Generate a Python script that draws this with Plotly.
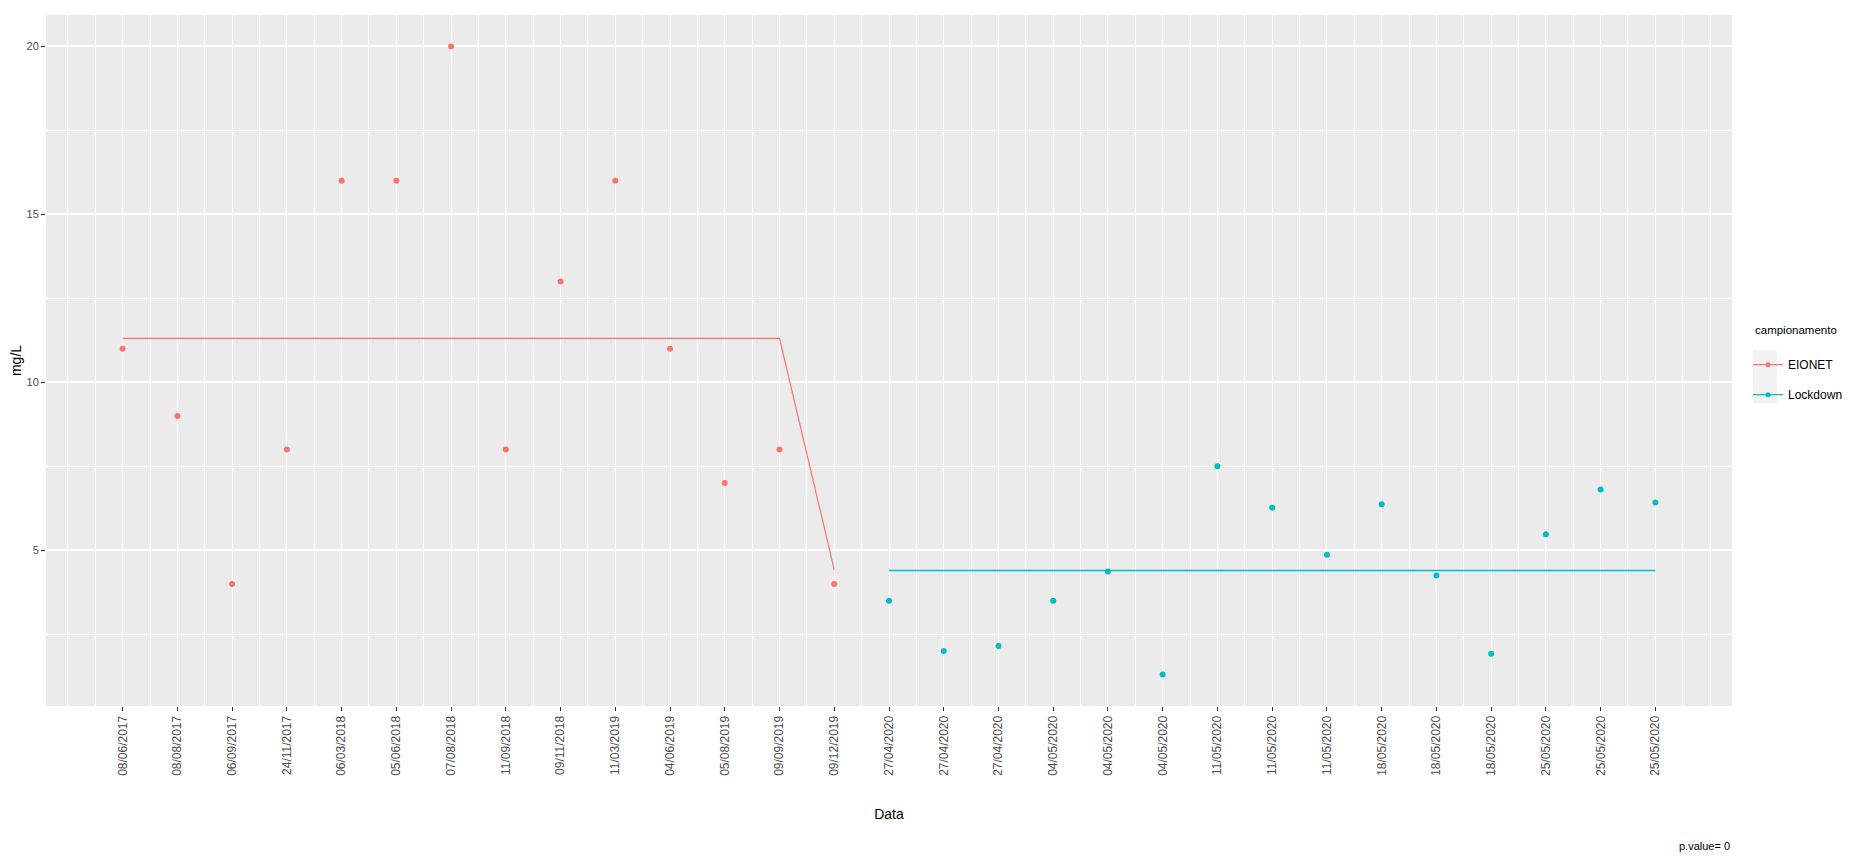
import plotly.graph_objects as go

# ---- data ----
date_labels = [
    "08/06/2017", "08/08/2017", "06/09/2017", "24/11/2017", "06/03/2018",
    "05/06/2018", "07/08/2018", "11/09/2018", "09/11/2018", "11/03/2019",
    "04/06/2019", "05/08/2019", "09/09/2019", "09/12/2019",
    "27/04/2020", "27/04/2020", "27/04/2020", "04/05/2020", "04/05/2020",
    "04/05/2020", "11/05/2020", "11/05/2020", "11/05/2020", "18/05/2020",
    "18/05/2020", "18/05/2020", "25/05/2020", "25/05/2020", "25/05/2020",
]
positions = list(range(1, len(date_labels) + 1))

eionet_x = positions[:14]
eionet_values = [11, 9, 4, 8, 16, 16, 20, 8, 13, 16, 11, 7, 8, 4]

lockdown_x = positions[14:]
lockdown_values = [3.5, 2.0, 2.15, 3.5, 4.37, 1.3, 7.5, 6.27, 4.87, 6.37,
                   4.25, 1.92, 5.48, 6.81, 6.42]

eionet_line_x = [1, 13, 14]
eionet_line_y = [11.31, 11.31, 4.42]
lockdown_line_x = [15, 29]
lockdown_line_y = [4.40, 4.40]

RED = "#F8766D"
CYAN = "#00BFC4"
FONT = "Liberation Sans, Arial, sans-serif"

fig = go.Figure()

fig.add_trace(go.Scatter(x=eionet_line_x, y=eionet_line_y, mode="lines",
                         line=dict(color=RED, width=1.2), showlegend=False,
                         hoverinfo="skip"))
fig.add_trace(go.Scatter(x=lockdown_line_x, y=lockdown_line_y, mode="lines",
                         line=dict(color=CYAN, width=1.6), showlegend=False,
                         hoverinfo="skip"))
fig.add_trace(go.Scatter(x=eionet_x, y=eionet_values, mode="markers",
                         marker=dict(color=RED, size=6), showlegend=False))
fig.add_trace(go.Scatter(x=lockdown_x, y=lockdown_values, mode="markers",
                         marker=dict(color=CYAN, size=6), showlegend=False))
# legend entries (line + point like ggplot keys)
fig.add_trace(go.Scatter(x=[None], y=[None], mode="lines+markers", name="EIONET",
                         legendgroup="a",
                         line=dict(color=RED, width=1.2),
                         marker=dict(color=RED, size=5)))
fig.add_trace(go.Scatter(x=[None], y=[None], mode="lines+markers", name="Lockdown",
                         legendgroup="b",
                         line=dict(color=CYAN, width=1.2),
                         marker=dict(color=CYAN, size=5)))

# the page body has an 8px margin, so the figure is sized to fit the window
fig.update_layout(
    width=1842, height=848,
    paper_bgcolor="white", plot_bgcolor="#EBEBEB",
    margin=dict(l=38, r=118, t=7, b=150, autoexpand=False),
    font=dict(family=FONT, color="#000000"),
    legend=dict(
        x=1.0095, xanchor="left", y=0.515, yanchor="top",
        font=dict(size=12, color="#000000"),
        bgcolor="rgba(0,0,0,0)", itemwidth=30, tracegroupgap=11,
    ),
    shapes=[dict(type="rect", xref="paper", yref="paper",
                 x0=1.0125, x1=1.0267, y0=0.4385, y1=0.515,
                 fillcolor="#F2F2F2", line=dict(width=0), layer="below")],
    annotations=[
        dict(text="campionamento", xref="paper", yref="paper", x=1.0125, y=0.544,
             xanchor="left", yanchor="middle", showarrow=False,
             font=dict(size=11.5, color="#000000", family=FONT)),
        dict(text="p.value= 0", xref="paper", yref="paper", x=1.0, y=-0.203,
             xanchor="right", yanchor="middle", showarrow=False,
             font=dict(size=11, color="#000000", family=FONT)),
    ],
)

fig.update_xaxes(
    range=[-0.4, 30.4], tickmode="array", tickvals=positions, ticktext=date_labels,
    tickangle=-90, tickfont=dict(size=12, color="#4D4D4D"),
    ticks="outside", ticklen=4, tickwidth=1, tickcolor="#333333",
    showgrid=True, gridcolor="white", gridwidth=1.2,
    minor=dict(tick0=0, dtick=0.5, showgrid=True, gridcolor="white", gridwidth=0.7,
               ticks=""),
    zeroline=False, showline=False,
    title=dict(text="Data", font=dict(size=14, color="#000000"), standoff=34),
)
fig.update_yaxes(
    range=[0.365, 20.935], tickmode="array", tickvals=[5, 10, 15, 20],
    tickfont=dict(size=11, color="#4D4D4D"),
    ticks="outside", ticklen=4, tickwidth=1, tickcolor="#333333",
    showgrid=True, gridcolor="white", gridwidth=1.6,
    minor=dict(tickmode="array", tickvals=[2.5, 7.5, 12.5, 17.5], showgrid=True,
               gridcolor="white", gridwidth=0.8, ticks=""),
    zeroline=False, showline=False,
    title=dict(text="mg/L", font=dict(size=14, color="#000000"), standoff=10),
)

fig.write_html("out.html")
